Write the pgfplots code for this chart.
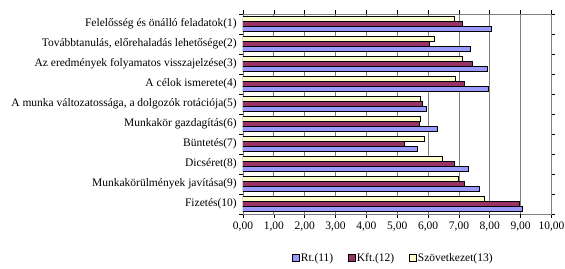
\documentclass[border=0pt]{standalone}
\usepackage{pgfplots}
\pgfplotsset{compat=1.18}
\usepackage{fontspec}
\setmainfont{Liberation Serif}
\definecolor{rtblue}{RGB}{153,153,255}
\definecolor{kftred}{RGB}{153,51,102}
\definecolor{szovyel}{RGB}{255,255,204}
\definecolor{gridgray}{RGB}{128,128,128}
\begin{document}
\begin{tikzpicture}
\fontsize{11.5}{13}\selectfont
\begin{axis}[
  at={(0pt,0pt)}, anchor=south west,
  scale only axis,
  width=308.5pt, height=200pt,
  xbar, bar width=5pt,
  xmin=0, xmax=10,
  ymin=0.5, ymax=10.5,
  y dir=reverse,
  xtick={0,1,...,10},
  ytick={1,...,10},
  yticklabels={Felelősség és önálló feladatok(1),
    {Továbbtanulás, előrehaladás lehetősége(2)},
    Az eredmények folyamatos visszajelzése(3),
    A célok ismerete(4),
    {A munka változatossága, a dolgozók rotációja(5)},
    Munkakör gazdagítás(6),
    Büntetés(7),
    Dicséret(8),
    Munkakörülmények javítása(9),
    Fizetés(10)},
  minor ytick={0.5,1.5,...,10.5},
  tick align=outside,
  major tick length=4pt,
  minor tick length=4pt,
  ytick style={draw=none},
  minor y tick style={draw=black, line width=0.6pt},
  x tick style={draw=black, line width=0.6pt},
  xmajorgrids,
  major grid style={draw=gridgray, line width=0.8pt},
  extra x ticks={9},
  extra x tick labels={},
  extra x tick style={grid style={draw=black, line width=0.8pt}},
  axis line style={draw=gridgray, line width=0.8pt},
  xticklabel style={/pgf/number format/.cd, fixed, fixed zerofill, precision=2, use comma, assume math mode=true},
  ticklabel style={font=\fontsize{11.5}{13}\selectfont},
  yticklabel style={inner sep=2pt},
  legend columns=3,
  legend style={at={(0.486,-0.22)}, anchor=center, draw=none, fill=none,
    font=\fontsize{11.5}{13}\selectfont,
    /tikz/every even column/.append style={column sep=14pt},
    nodes={inner sep=1pt}},
  legend image code/.code={\draw[#1, line width=0.6pt] (0pt,-3.5pt) rectangle (7pt,3.5pt);},
  every axis plot/.append style={draw=black, line width=1pt},
]
\addplot[fill=rtblue, bar shift=-5pt] coordinates {
 (8.05,1) (7.38,2) (7.92,3) (7.96,4) (5.94,5) (6.29,6) (5.65,7) (7.32,8) (7.68,9) (9.06,10)};
\addplot[fill=kftred, bar shift=0pt] coordinates {
 (7.13,1) (6.06,2) (7.45,3) (7.17,4) (5.81,5) (5.71,6) (5.25,7) (6.84,8) (7.17,9) (8.95,10)};
\addplot[fill=szovyel, bar shift=5pt] coordinates {
 (6.84,1) (6.22,2) (7.13,3) (6.88,4) (5.74,5) (5.76,6) (5.87,7) (6.46,8) (6.98,9) (7.82,10)};
\legend{Rt.(11), Kft.(12), Szövetkezet(13)}
\end{axis}
\pgfresetboundingbox
\path (-243pt,-54pt) rectangle (322pt,214pt);
\end{tikzpicture}
\end{document}
